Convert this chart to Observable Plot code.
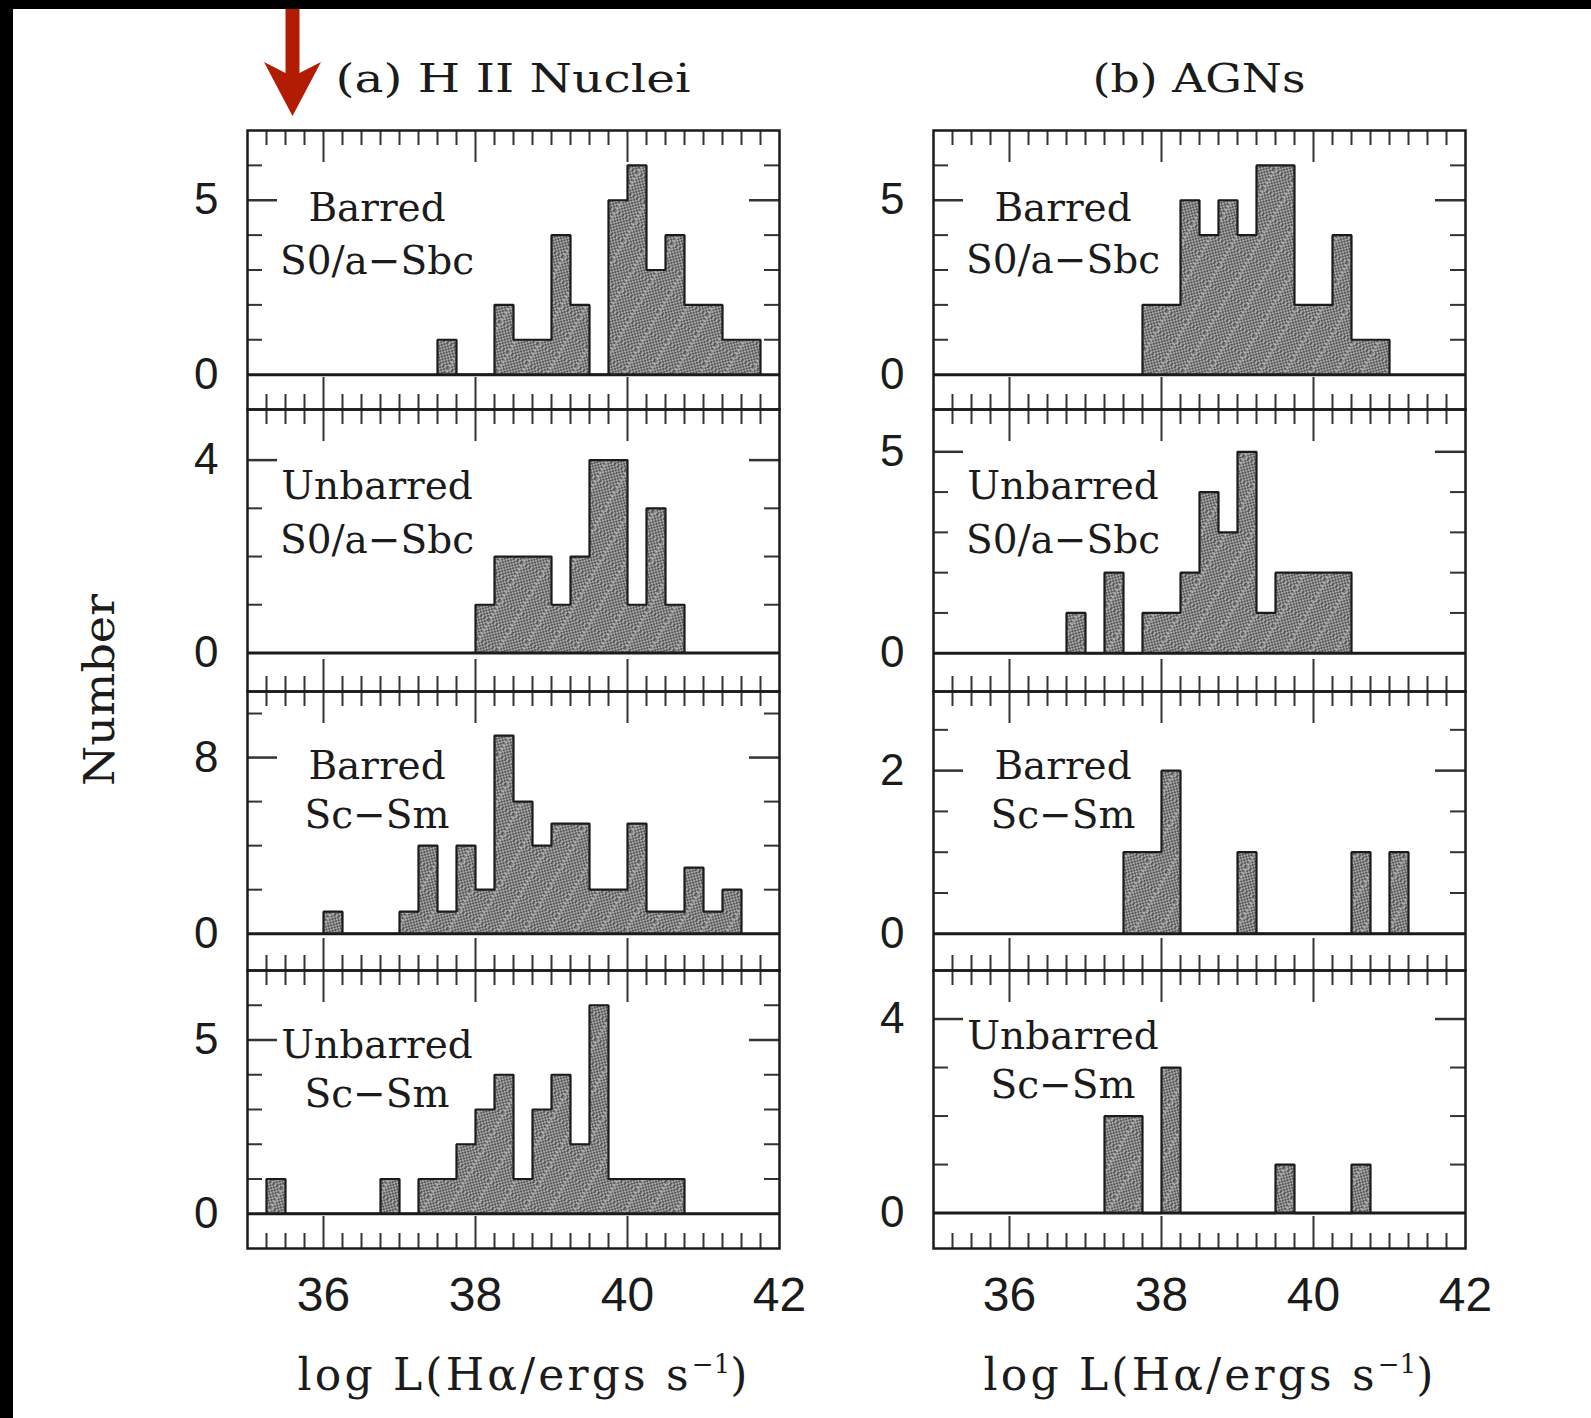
<!DOCTYPE html>
<html>
<head>
<meta charset="utf-8">
<script src="https://cdn.jsdelivr.net/npm/d3@7"></script>
<script src="https://cdn.jsdelivr.net/npm/@observablehq/plot@0.6"></script>
<style>
  html, body { margin: 0; padding: 0; background: #fff; }
  #page { position: relative; width: 1591px; height: 1418px; background: #fff; overflow: hidden; }
  .panel { position: absolute; }
  #overlay { position: absolute; left: 0; top: 0; pointer-events: none; }
</style>
</head>
<body>
<svg width="0" height="0" style="position:absolute">
  <defs>
    <pattern id="chk" width="4" height="4" patternUnits="userSpaceOnUse">
      <rect width="4" height="4" fill="#a8a8a8"/>
      <rect width="2" height="2" fill="#585858"/>
      <rect x="2" y="2" width="2" height="2" fill="#585858"/>
    </pattern>
    <pattern id="hatch" width="22" height="22" patternUnits="userSpaceOnUse" patternTransform="rotate(30)">
      <rect width="22" height="22" fill="url(#chk)"/>
      <rect x="0" y="0" width="2.5" height="22" fill="#c4c4c4" fill-opacity="0.35"/>
    </pattern>
  </defs>
</svg>
<div id="page"></div>
<script>
// ---------------- DATA (bin lower edges, counts; bin width 0.25 dex) ----------------
const BIN = 0.25;

// (a) H II nuclei
const hiiBarredEarlyX   = [37.5, 38.25, 38.5, 38.75, 39.0, 39.25, 39.75, 40.0, 40.25, 40.5, 40.75, 41.0, 41.25, 41.5];
const hiiBarredEarlyN   = [1, 2, 1, 1, 4, 2, 5, 6, 3, 4, 2, 2, 1, 1];
const hiiUnbarredEarlyX = [38.0, 38.25, 38.5, 38.75, 39.0, 39.25, 39.5, 39.75, 40.0, 40.25, 40.5];
const hiiUnbarredEarlyN = [1, 2, 2, 2, 1, 2, 4, 4, 1, 3, 1];
const hiiBarredLateX    = [36.0, 37.0, 37.25, 37.5, 37.75, 38.0, 38.25, 38.5, 38.75, 39.0, 39.25, 39.5, 39.75, 40.0, 40.25, 40.5, 40.75, 41.0, 41.25];
const hiiBarredLateN    = [1, 1, 4, 1, 4, 2, 9, 6, 4, 5, 5, 2, 2, 5, 1, 1, 3, 1, 2];
const hiiUnbarredLateX  = [35.25, 36.75, 37.25, 37.5, 37.75, 38.0, 38.25, 38.5, 38.75, 39.0, 39.25, 39.5, 39.75, 40.0, 40.25, 40.5];
const hiiUnbarredLateN  = [1, 1, 1, 1, 2, 3, 4, 1, 3, 4, 2, 6, 1, 1, 1, 1];

// (b) AGNs
const agnBarredEarlyX   = [37.75, 38.0, 38.25, 38.5, 38.75, 39.0, 39.25, 39.5, 39.75, 40.0, 40.25, 40.5, 40.75];
const agnBarredEarlyN   = [2, 2, 5, 4, 5, 4, 6, 6, 2, 2, 4, 1, 1];
const agnUnbarredEarlyX = [36.75, 37.25, 37.75, 38.0, 38.25, 38.5, 38.75, 39.0, 39.25, 39.5, 39.75, 40.0, 40.25];
const agnUnbarredEarlyN = [1, 2, 1, 1, 2, 4, 3, 5, 1, 2, 2, 2, 2];
const agnBarredLateX    = [37.5, 37.75, 38.0, 39.0, 40.5, 41.0];
const agnBarredLateN    = [1, 1, 2, 1, 1, 1];
const agnUnbarredLateX  = [37.25, 37.5, 38.0, 39.5, 40.5];
const agnUnbarredLateN  = [2, 2, 3, 1, 1];

// axis ticks / labels
const xDomain = [35, 42];
const xTickLabels = [36, 38, 40, 42];
const xMajorTicks = [36, 38, 40];
const xMinorTicks = d3.range(35.25, 42, 0.25).filter(v => !xMajorTicks.includes(v));

const columnTitles = ["(a) H II Nuclei", "(b) AGNs"];
const xTitle = "log L(Hα/ergs s";
const yTitle = "Number";

// ---------------- LAYOUT ----------------
const INK = "#1b1b1b", TICK = "#333";
const W = 532;
const colX = [247, 933];
const rowTop = [130, 409, 691, 970];
const rowH = [279, 282, 279, 278];

const panels = [
  {col: 0, row: 0, x: hiiBarredEarlyX,   n: hiiBarredEarlyN,   yDomain: [-1, 7],       yStep: 1,   yLabels: [0, 5], label: ["Barred", "S0/a−Sbc"],   base: [90, 143]},
  {col: 0, row: 1, x: hiiUnbarredEarlyX, n: hiiUnbarredEarlyN, yDomain: [-0.8, 5.05],  yStep: 1,   yLabels: [0, 4], label: ["Unbarred", "S0/a−Sbc"], base: [89, 143]},
  {col: 0, row: 2, x: hiiBarredLateX,    n: hiiBarredLateN,    yDomain: [-1.67, 11],   yStep: 2,   yLabels: [0, 8], label: ["Barred", "Sc−Sm"],      base: [87, 136]},
  {col: 0, row: 3, x: hiiUnbarredLateX,  n: hiiUnbarredLateN,  yDomain: [-1, 7],       yStep: 1,   yLabels: [0, 5], label: ["Unbarred", "Sc−Sm"],    base: [87, 136]},
  {col: 1, row: 0, x: agnBarredEarlyX,   n: agnBarredEarlyN,   yDomain: [-1, 7],       yStep: 1,   yLabels: [0, 5], label: ["Barred", "S0/a−Sbc"],   base: [90, 142]},
  {col: 1, row: 1, x: agnUnbarredEarlyX, n: agnUnbarredEarlyN, yDomain: [-0.95, 6.05], yStep: 1,   yLabels: [0, 5], label: ["Unbarred", "S0/a−Sbc"], base: [89, 143]},
  {col: 1, row: 2, x: agnBarredLateX,    n: agnBarredLateN,    yDomain: [-0.45, 2.97], yStep: 0.5, yLabels: [0, 2], label: ["Barred", "Sc−Sm"],      base: [87, 136]},
  {col: 1, row: 3, x: agnUnbarredLateX,  n: agnUnbarredLateN,  yDomain: [-0.73, 5],    yStep: 1,   yLabels: [0, 4], label: ["Unbarred", "Sc−Sm"],    base: [78, 127]}
];

const page = document.getElementById("page");

// black scan borders
const topBar = document.createElement("div");
topBar.style.cssText = "position:absolute;left:0;top:0;width:1591px;height:9px;background:#000;";
const leftBar = document.createElement("div");
leftBar.style.cssText = "position:absolute;left:0;top:0;width:13px;height:1418px;background:#000;";
page.append(topBar, leftBar);

function makePanel(p) {
  const H = rowH[p.row];
  const isBottom = p.row === 3;
  const mL = 90, mR = 6, mT = 6, mB = isBottom ? 90 : 6;

  const bins = p.x.map((lo, i) => ({lo, hi: lo + BIN, n: p.n[i]}));
  const outline = [];
  let prevHi = null;
  for (const b of bins) {
    if (prevHi === null || Math.abs(prevHi - b.lo) > 1e-9) {
      if (prevHi !== null) outline.push({x: prevHi, y: 0});
      outline.push({x: b.lo, y: 0});
    }
    outline.push({x: b.lo, y: b.n}, {x: b.hi, y: b.n});
    prevHi = b.hi;
  }
  outline.push({x: prevHi, y: 0});

  const yAll = d3.range(p.yStep, p.yDomain[1] - 0.05, p.yStep).map(v => +v.toFixed(3));
  const yMajor = p.yLabels.filter(v => v !== 0);
  const yMinor = yAll.filter(v => !p.yLabels.includes(v));

  const tk = {stroke: TICK, strokeWidth: 2};
  const marks = [
    Plot.rectY(bins, {x1: "lo", x2: "hi", y1: 0, y2: "n", fill: "url(#hatch)"}),
    Plot.ruleY([0], {stroke: INK, strokeWidth: 3}),
    Plot.line(outline, {x: "x", y: "y", stroke: INK, strokeWidth: 2.2, strokeLinejoin: "miter"}),
    Plot.ruleX(xMinorTicks, {...tk, insetBottom: H - 15}),
    Plot.ruleX(xMinorTicks, {...tk, insetTop: H - 15}),
    Plot.ruleX(xMajorTicks, {...tk, insetBottom: H - 32}),
    Plot.ruleX(xMajorTicks, {...tk, insetTop: H - 32}),
    Plot.ruleY(yMinor, {...tk, insetRight: W - 15}),
    Plot.ruleY(yMinor, {...tk, insetLeft: W - 15}),
    Plot.ruleY(yMajor, {...tk, strokeWidth: 2.5, insetRight: W - 30}),
    Plot.ruleY(yMajor, {...tk, strokeWidth: 2.5, insetLeft: W - 30}),
    Plot.frame({stroke: INK, strokeWidth: 2.5}),
    Plot.axisY(p.yLabels, {anchor: "left", tickSize: 0, tickPadding: 29, tickFormat: d => String(d),
      fontSize: 44, fill: INK, fontFamily: "Liberation Sans"}),
    Plot.text([p.label[0]], {text: d => d, frameAnchor: "top-left", dx: 129.5, dy: p.base[0] - 0.32 * 39,
      fontFamily: "DejaVu Serif", fontSize: 39, fill: INK, textAnchor: "middle", lineAnchor: "middle"}),
    Plot.text([p.label[1]], {text: d => d, frameAnchor: "top-left", dx: 129.5, dy: p.base[1] - 0.32 * 39,
      fontFamily: "DejaVu Serif", fontSize: 39, fill: INK, textAnchor: "middle", lineAnchor: "middle"})
  ];
  if (isBottom) {
    marks.push(Plot.axisX(xTickLabels, {anchor: "bottom", tickSize: 0, tickPadding: 28, tickFormat: d => String(d),
      fontSize: 48, fill: INK, fontFamily: "Liberation Sans"}));
  }

  const chart = Plot.plot({
    width: mL + W + mR,
    height: mT + H + mB,
    marginLeft: mL, marginRight: mR, marginTop: mT, marginBottom: mB,
    x: {domain: xDomain, ...(isBottom ? {} : {axis: null})},
    y: {domain: p.yDomain},
    style: {background: "transparent", overflow: "visible", fontFamily: "Liberation Sans", fontSize: "44px", color: INK},
    marks
  });
  const div = document.createElement("div");
  div.className = "panel";
  div.style.left = (colX[p.col] - mL) + "px";
  div.style.top = (rowTop[p.row] - mT) + "px";
  div.style.width = (mL + W + mR) + "px";
  div.appendChild(chart);
  page.appendChild(div);
}
panels.forEach(makePanel);

// ---------------- overlay text & annotation arrow ----------------
const ov = d3.select(page).append("svg")
  .attr("id", "overlay").attr("width", 1591).attr("height", 1418);

const serif = "DejaVu Serif";
const titleLen = [355, 213];
columnTitles.forEach((t, i) => {
  ov.append("text")
    .attr("x", colX[i] + W / 2).attr("y", 91.5)
    .attr("text-anchor", "middle")
    .attr("font-family", serif).attr("font-size", 40).attr("fill", INK)
    .attr("textLength", titleLen[i]).attr("lengthAdjust", "spacingAndGlyphs")
    .text(t);
});

[0, 1].forEach(i => {
  const t = ov.append("text")
    .attr("x", colX[i] + W / 2 + 11).attr("y", 1390)
    .attr("text-anchor", "middle")
    .attr("font-family", serif).attr("font-size", 44).attr("fill", INK)
    .attr("letter-spacing", 3.2);
  t.append("tspan").text(xTitle);
  t.append("tspan").attr("dy", -17).attr("font-size", 26).attr("letter-spacing", 0).text("−1");
  t.append("tspan").attr("dy", 17).text(")");
});

ov.append("text")
  .attr("transform", "translate(114,690) rotate(-90)")
  .attr("text-anchor", "middle")
  .attr("font-family", serif).attr("font-size", 42).attr("fill", INK)
  .attr("textLength", 192).attr("lengthAdjust", "spacingAndGlyphs")
  .text(yTitle);

// red annotation arrow
ov.append("path")
  .attr("d", "M285.5,9 L299.5,9 L299.5,73 L321,62 L292.5,116 L264,62 L285.5,73 Z")
  .attr("fill", "#b21c02");
</script>
</body>
</html>
